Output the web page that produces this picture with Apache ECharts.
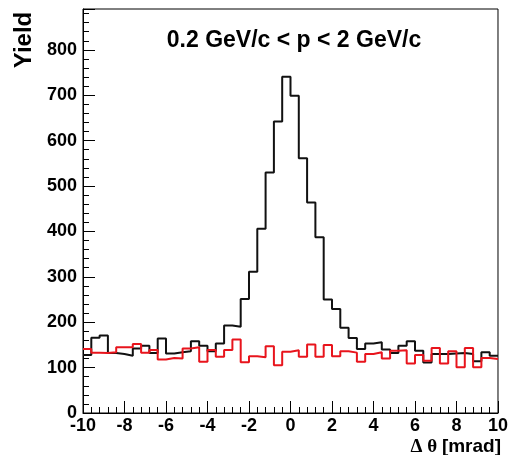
<!DOCTYPE html>
<html><head><meta charset="utf-8">
<script src="https://cdn.jsdelivr.net/npm/echarts@6/dist/echarts.min.js"></script>
<style>html,body{margin:0;padding:0;background:#fff}#c{width:511px;height:455px}</style>
</head><body><div id="c"></div>
<script>
// Bin lower edges (mrad), 0.4 mrad bins
const binLowEdges = [-10.0,-9.6,-9.2,-8.8,-8.4,-8.0,-7.6,-7.2,-6.8,-6.4,
  -6.0,-5.6,-5.2,-4.8,-4.4,-4.0,-3.6,-3.2,-2.8,-2.4,
  -2.0,-1.6,-1.2,-0.8,-0.4,0.0,0.4,0.8,1.2,1.6,
  2.0,2.4,2.8,3.2,3.6,4.0,4.4,4.8,5.2,5.6,
  6.0,6.4,6.8,7.2,7.6,8.0,8.4,8.8,9.2,9.6];
const lastBinUpperEdge = 10.0;

// Black histogram (all)
const yieldBlack = [128,166,171,132,130,126,142,148,132,164,
  131,134,136,158,148,136,153,193,190,251,
  311,406,530,642,741,699,561,464,387,250,
  229,188,165,141,153,156,140,132,148,158,
  137,111,130,130,131,132,130,114,134,126];

// Red histogram (background)
const yieldRed = [141,133,132,134,145,145,152,133,139,118,
  121,120,142,145,113,139,124,139,162,112,
  125,123,147,105,135,138,124,151,124,150,
  125,136,133,113,130,134,120,137,138,109,
  128,115,143,109,136,101,143,101,121,119];

const titleText = '0.2 GeV/c < p < 2 GeV/c';
const yTitle = 'Yield';

function steps(vals){
  const pts = binLowEdges.map((x,i)=>[x, vals[i]]);
  pts.push([lastBinUpperEdge, vals[vals.length-1]]);
  return pts;
}

const font = '"Liberation Sans", Arial, Helvetica, sans-serif';
const chart = echarts.init(document.getElementById('c'), null, {renderer:'canvas'});
function axisCommon(){
  return {
    axisLine:{show:true, onZero:false, lineStyle:{color:'#000', width:1}},
    axisTick:{show:true, inside:true, length:12, lineStyle:{color:'#000', width:1}},
    minorTick:{show:true, splitNumber:5, length:6, lineStyle:{color:'#000', width:1}},
    splitLine:{show:false},
    minorSplitLine:{show:false}
  };
}
chart.setOption({
  animation:false,
  backgroundColor:'#fff',
  grid:{left:83, right:10, top:9, bottom:42, show:true, borderColor:'#000', borderWidth:1},
  xAxis:Object.assign({type:'value', min:-10, max:10, interval:2,
    axisLabel:{fontFamily:font, fontWeight:'bold', fontSize:18, color:'#000', margin:4}}, axisCommon()),
  yAxis:Object.assign({type:'value', min:0, max:890, interval:100,
    axisLabel:{fontFamily:font, fontWeight:'bold', fontSize:18, color:'#000', margin:6, showMaxLabel:false}}, axisCommon()),
  graphic:[
    {type:'text', x:294, y:41, style:{text:titleText, font:'bold 23px '+font, fill:'#000', align:'center', verticalAlign:'middle'}},
    {type:'text', x:24, y:40, rotation:Math.PI/2, style:{text:yTitle, font:'bold 24px '+font, fill:'#000', align:'center', verticalAlign:'middle'}},
    {type:'text', x:501, y:447, style:{text:'{s|\u0394 \u03b8 }{b|[mrad]}', align:'right', verticalAlign:'middle',
      rich:{s:{fontFamily:'"Liberation Serif", serif', fontWeight:'bold', fontSize:19, fill:'#000'},
            b:{fontFamily:font, fontWeight:'bold', fontSize:19, fill:'#000'}}}}
  ],
  series:[
    {type:'line', step:'end', data:steps(yieldBlack), showSymbol:false, lineStyle:{color:'#111', width:2}, z:2},
    {type:'line', step:'end', data:steps(yieldRed), showSymbol:false, lineStyle:{color:'#e8141c', width:2}, z:3}
  ]
});
</script></body></html>
